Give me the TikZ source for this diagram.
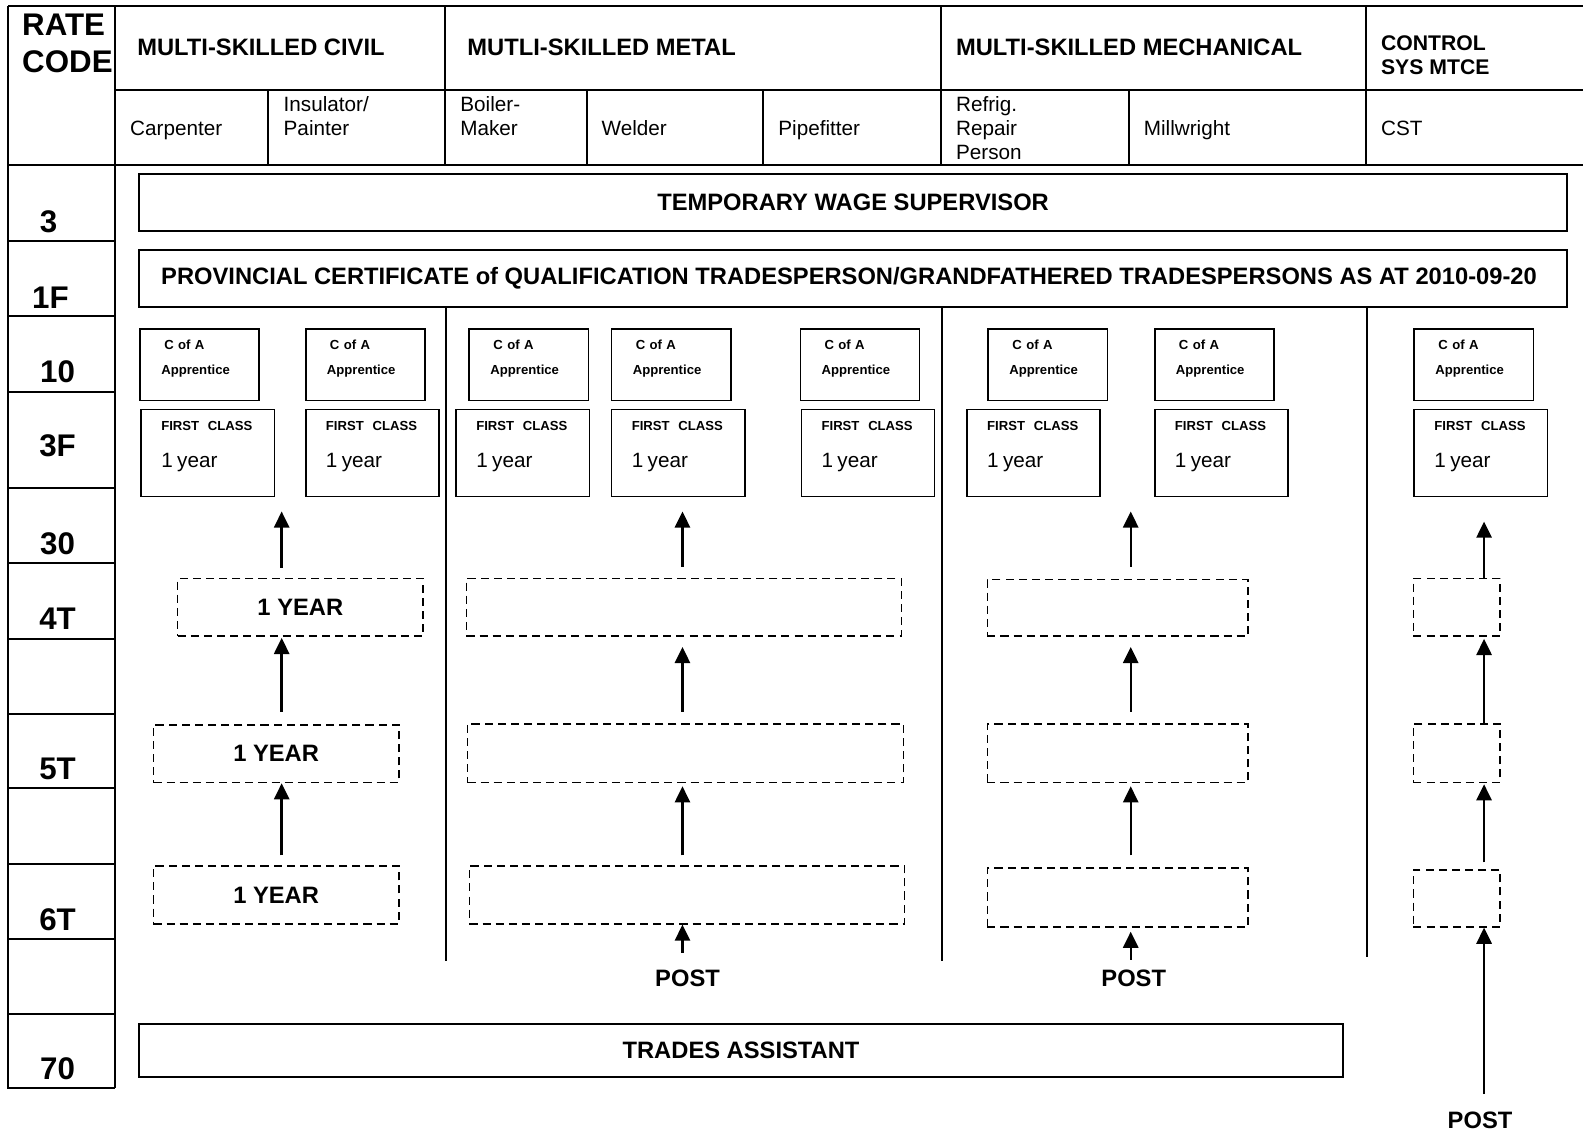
\documentclass[tikz,border=0pt]{standalone}
\usepackage{fontspec}
\setmainfont{Liberation Sans}
\usetikzlibrary{positioning,calc,arrows.meta}

\begin{document}
\begin{tikzpicture}[x=1pt,y=-1pt,line width=2pt,
  every node/.style={inner sep=0pt},
  hdr/.style={anchor=west, align=left, font=\bfseries\fontsize{23.5}{24}\selectfont},
  subhdr/.style={anchor=west, align=left, font=\fontsize{20.5}{24}\selectfont},
  ratecode/.style={font=\bfseries\fontsize{31}{36}\selectfont},
  wbar/.style={draw, line width=1.8pt, font=\bfseries\fontsize{23.5}{24}\selectfont},
  cofa/.style={draw, line width=1.6pt, anchor=north west, inner xsep=21pt,
               text width=76pt, align=left, text height=20pt, text depth=51pt,
               font=\bfseries\fontsize{13}{25}\selectfont},
  firstcl/.style={draw, line width=1.6pt, anchor=north west, inner xsep=20pt,
               text width=92pt, align=left, text height=21pt, text depth=65pt,
               font=\bfseries\fontsize{13}{36.5}\selectfont},
  dbox/.style={draw, line width=1.6pt, dash pattern=on 8pt off 5pt,
               font=\bfseries\fontsize{23.5}{24}\selectfont},
  uparr/.style={-{Triangle[width=15pt,length=16pt]}, line width=2.4pt},
  posttxt/.style={font=\bfseries\fontsize{23.5}{24}\selectfont}]
\useasboundingbox (0,0) rectangle (1568,1121);

% table frame
\draw (8,6) -- (1568,6);
\draw (8,6) -- (8,1078) -- (114,1078);
\draw (114,6) -- (114,1078);
\draw (114,89) -- (1568,89);
\draw (8,163) -- (1568,163);
\foreach \x in {441,932,1353} \draw (\x,6) -- (\x,163);
\foreach \x in {265,581,756,1118} \draw (\x,89) -- (\x,163);
\foreach \y in {239,313,388,483,558,633,707,781,856,930,1004} \draw (8,\y) -- (114,\y);

% headings
\node[ratecode, anchor=west, align=left] (rc) at (21,43) {RATE\\CODE};
\node[hdr] (civil) at (135,47) {MULTI-SKILLED CIVIL};
\node[hdr] (metal) at (462,47) {MUTLI-SKILLED METAL};
\node[hdr] (mech) at (946,47) {MULTI-SKILLED MECHANICAL};
\node[hdr, font=\bfseries\fontsize{21}{24}\selectfont] (ctrl) at (1367,55) {CONTROL\\SYS MTCE};
\node[subhdr] (carp) at (128,129) {Carpenter};
\node[subhdr] (insul) at (280,115) {Insulator/\\Painter};
\node[subhdr] (boiler) at (455,115) {Boiler-\\Maker};
\node[subhdr] (welder) at (595,127) {Welder};
\node[subhdr] (pipe) at (770,129) {Pipefitter};
\node[subhdr] (refrig) at (946,127) {Refrig.\\Repair\\Person};
\node[subhdr] (millw) at (1132,129) {Millwright};
\node[subhdr] (cstt) at (1367,127) {CST};

% rate codes
\node[ratecode] (r3) at (48,220) {3};
\node[ratecode] (r1f) at (50,295) {1F};
\node[ratecode] (r10) at (57,368) {10};
\node[ratecode] (r3f) at (57,442) {3F};
\node[ratecode] (r30) at (57,539) {30};
\node[ratecode] (r4t) at (57,613) {4T};
\node[ratecode] (r5t) at (57,762) {5T};
\node[ratecode] (r6t) at (57,911) {6T};
\node[ratecode] (r70) at (57,1059) {70};

% wide bars
\node[wbar, minimum width=1414pt, minimum height=57pt] (tws) at (845,200.5) {TEMPORARY WAGE SUPERVISOR};
\node[wbar, minimum width=1414pt, minimum height=56pt] (prov) at (845,276)
  {\hspace*{-8pt}PROVINCIAL CERTIFICATE of QUALIFICATION TRADESPERSON/GRANDFATHERED TRADESPERSONS AS AT 2010-09-20};
\node[wbar, minimum width=1192pt, minimum height=53pt] (ta) at (734,1040.5) {TRADES ASSISTANT};

% column dividers
\foreach \x/\e in {442/952,933/952,1354/948} \draw (prov.south -| \x,0) -- (\x,\e);

% C of A and first class boxes
\foreach \x [count=\i] in {138,302,464,605,792,978,1143,1400}
  \node[cofa] (ca\i) at (\x,325) {\hspace*{3pt}C of A\\Apprentice};
\foreach \x [count=\i] in {139,302,451,605,793,957,1143,1400}
  \node[firstcl] (fc\i) at (\x,405) {FIRST\ \ CLASS\\{\mdseries\fontsize{20.5}{36.5}\selectfont 1 year}};

% dashed steps
\node[dbox, minimum width=243pt, minimum height=57pt] (civ4) at (297.5,601.5) {1 YEAR};
\node[dbox, minimum width=243pt, minimum height=57pt] (civ5) at (273.5,746.5) {1 YEAR};
\node[dbox, minimum width=243pt, minimum height=57pt] (civ6) at (273.5,886.5) {1 YEAR};
\node[dbox, minimum width=431pt, minimum height=57pt] (met4) at (677.5,601.5) {};
\node[dbox, minimum width=432pt, minimum height=58pt] (met5) at (679,746) {};
\node[dbox, minimum width=431pt, minimum height=57pt] (met6) at (680.5,886.5) {};
\node[dbox, minimum width=258pt, minimum height=56pt] (mec4) at (1107,602) {};
\node[dbox, minimum width=258pt, minimum height=58pt] (mec5) at (1107,746) {};
\node[dbox, minimum width=258pt, minimum height=58pt] (mec6) at (1107,889) {};
\node[dbox, minimum width=86pt, minimum height=57pt] (con4) at (1443,601.5) {};
\node[dbox, minimum width=86pt, minimum height=58pt] (con5) at (1443,746) {};
\node[dbox, minimum width=86pt, minimum height=56pt] (con6) at (1443,890) {};

\node[posttxt] (post1) at (681,969) {POST};
\node[posttxt] (post2) at (1123,969) {POST};
\node[posttxt] (post3) at (1466,1110) {POST};

\coordinate (civx) at (279,0);
\coordinate (metx) at (676,0);
\coordinate (mecx) at (1120,0);
\coordinate (conx) at (1470,0);

% arrows
\draw[uparr, shorten <=10pt, shorten >=14pt] (civ4.north -| civx) -- (fc1.south -| civx);
\draw[uparr, shorten <=12pt, shorten >=1pt] (civ5.north -| civx) -- (civ4.south -| civx);
\draw[uparr, shorten <=10pt] (civ6.north -| civx) -- (civ5.south -| civx);
\draw[uparr, shorten <=11pt, shorten >=14pt] (met4.north -| metx) -- (fc4.south -| metx);
\draw[uparr, shorten <=11pt, shorten >=10pt] (met5.north -| metx) -- (met4.south -| metx);
\draw[uparr, shorten <=10pt, shorten >=3pt] (met6.north -| metx) -- (met5.south -| metx);
\draw[uparr, shorten <=16pt] (post1.north -| metx) -- (met6.south -| metx);
\draw[uparr, shorten <=12pt, shorten >=14pt] (mec4.north -| mecx) -- (fc7.south -| mecx);
\draw[uparr, shorten <=11pt, shorten >=10pt] (mec5.north -| mecx) -- (mec4.south -| mecx);
\draw[uparr, shorten <=12pt, shorten >=3pt] (mec6.north -| mecx) -- (mec5.south -| mecx);
\draw[uparr, shorten <=9pt, shorten >=4pt] (post2.north -| mecx) -- (mec6.south -| mecx);
\draw[uparr, shorten >=24pt] (con4.north -| conx) -- (fc8.south -| conx);
\draw[uparr, shorten >=2pt] (con5.north -| conx) -- (con4.south -| conx);
\draw[uparr, shorten <=7pt, shorten >=1pt] (con6.north -| conx) -- (con5.south -| conx);
\draw[uparr, shorten <=17pt] (post3.north -| conx) -- (con6.south -| conx);
\end{tikzpicture}
\end{document}
